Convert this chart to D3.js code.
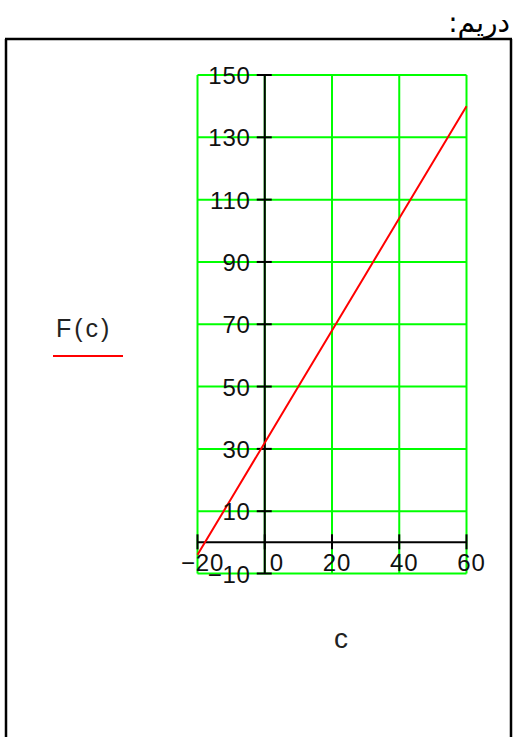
<!DOCTYPE html>
<html>
<head>
<meta charset="utf-8">
<script src="https://cdn.jsdelivr.net/npm/d3@7"></script>
<style>
html,body{margin:0;padding:0;background:#fff;}
svg{display:block;}
</style>
</head>
<body>
<script>
// ---- data ----
const cValues = [-20, -10, 0, 10, 20, 30, 40, 50, 60];
const fValues = [-4, 14, 32, 50, 68, 86, 104, 122, 140];
const xTicks = [-20, 0, 20, 40, 60];
const yTicks = [-10, 10, 30, 50, 70, 90, 110, 130, 150];
const xDomain = [-20, 60];
const yDomain = [-10, 150];
const headerText = "دریم:";
const seriesLabel = "F(c)";
const xLabel = "c";

const W = 515, H = 737;
const svg = d3.select("body").append("svg").attr("width", W).attr("height", H);

const x = d3.scaleLinear().domain(xDomain).range([197.5, 466.5]);
const y = d3.scaleLinear().domain(yDomain).range([573.5, 75]);

// outer frame
const frame = svg.append("g").attr("stroke", "#000").attr("stroke-width", 2.5).attr("fill", "none");
frame.append("line").attr("x1", 5).attr("x2", 512).attr("y1", 39).attr("y2", 39);
frame.append("line").attr("x1", 6).attr("x2", 6).attr("y1", 39).attr("y2", H);
frame.append("line").attr("x1", 511).attr("x2", 511).attr("y1", 39).attr("y2", H);

// header
svg.append("text")
  .attr("x", 510).attr("y", 32)
  .attr("direction", "rtl")
  .attr("text-anchor", "start")
  .attr("font-family", "DejaVu Sans, Liberation Sans, sans-serif")
  .attr("font-size", 28)
  .attr("fill", "#000")
  .text(headerText);

// grid
const grid = svg.append("g").attr("stroke", "#00ff00").attr("stroke-width", 2);
grid.selectAll("line.v").data(xTicks).join("line").attr("class", "v")
  .attr("x1", d => x(d)).attr("x2", d => x(d))
  .attr("y1", y(yDomain[0])).attr("y2", y(yDomain[1]));
grid.selectAll("line.h").data(yTicks).join("line").attr("class", "h")
  .attr("x1", x(xDomain[0])).attr("x2", x(xDomain[1]))
  .attr("y1", d => y(d)).attr("y2", d => y(d));

// axes (crossing at zero)
const ax = svg.append("g").attr("stroke", "#000").attr("stroke-width", 2);
ax.append("line").attr("x1", x(xDomain[0])).attr("x2", x(xDomain[1])).attr("y1", y(0)).attr("y2", y(0));
ax.append("line").attr("x1", x(0)).attr("x2", x(0)).attr("y1", y(yDomain[0])).attr("y2", y(yDomain[1]));
ax.selectAll("line.yt").data(yTicks).join("line").attr("class", "yt")
  .attr("x1", x(0) - 8).attr("x2", x(0) + 7)
  .attr("y1", d => y(d)).attr("y2", d => y(d));
ax.selectAll("line.xt").data(xTicks).join("line").attr("class", "xt")
  .attr("x1", d => x(d)).attr("x2", d => x(d))
  .attr("y1", y(0) - 8).attr("y2", y(0) + 7);

// series line
const line = d3.line().x((d, i) => x(cValues[i])).y(d => y(d));
svg.append("path").datum(fValues)
  .attr("d", line)
  .attr("fill", "none")
  .attr("stroke", "#ff0000")
  .attr("stroke-width", 2);

// tick labels
const font = "Liberation Sans, Arial, sans-serif";
svg.append("g").selectAll("text").data(yTicks).join("text")
  .attr("x", x(0) - 14).attr("y", d => y(d) + 9)
  .attr("text-anchor", "end")
  .attr("font-family", font).attr("font-size", 24)
  .attr("letter-spacing", 0.8)
  .attr("fill", "#111")
  .text(d => d < 0 ? "\u2212" + Math.abs(d) : d);

svg.append("g").selectAll("text").data(xTicks).join("text")
  .attr("x", d => x(d) + 5)
  .attr("y", y(0) + 29)
  .attr("text-anchor", d => d === 0 ? "start" : "middle")
  .attr("font-family", font).attr("font-size", 24)
  .attr("letter-spacing", 0.8)
  .attr("fill", "#111")
  .text(d => d < 0 ? "\u2212" + Math.abs(d) : d);

// legend / y label
svg.append("text")
  .attr("x", 56).attr("y", 337)
  .attr("font-family", font).attr("font-size", 25)
  .attr("letter-spacing", 3)
  .attr("fill", "#222")
  .text(seriesLabel);
svg.append("line")
  .attr("x1", 53).attr("x2", 123).attr("y1", 356).attr("y2", 356)
  .attr("stroke", "#ff0000").attr("stroke-width", 2);

// x label
svg.append("text")
  .attr("x", 341).attr("y", 648)
  .attr("text-anchor", "middle")
  .attr("font-family", font).attr("font-size", 28)
  .attr("fill", "#222")
  .text(xLabel);
</script>
</body>
</html>
